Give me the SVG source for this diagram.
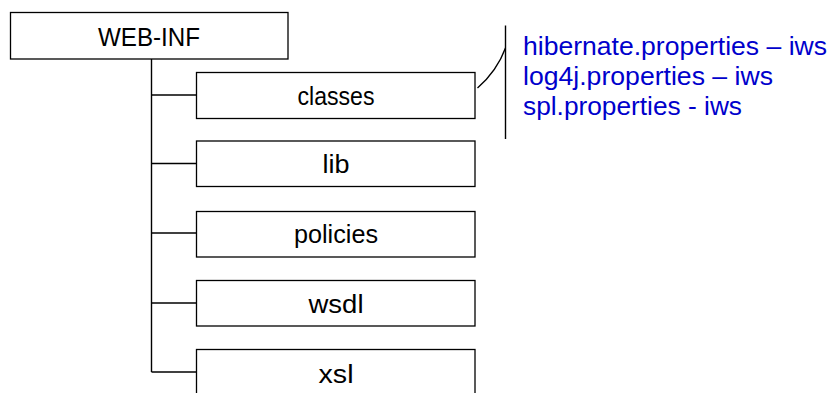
<svg xmlns="http://www.w3.org/2000/svg" width="832" height="393" viewBox="0 0 832 393">
<style>
.box{fill:#fff;stroke:#000;stroke-width:1.3}
.ln{fill:none;stroke:#000;stroke-width:1.4}
.lbl{font-family:"Liberation Sans",Arial,sans-serif;font-size:26px;fill:#000;text-anchor:middle}
.note{font-family:"Liberation Sans",Arial,sans-serif;font-size:25px;fill:#0000CC}
</style>
<rect width="832" height="393" fill="#fff"/>
<g id="connectors">
<path class="ln" d="M151.5,59 V372"/>
<path class="ln" d="M151.5,95 H196.5"/>
<path class="ln" d="M151.5,163.5 H196.5"/>
<path class="ln" d="M151.5,233 H196.5"/>
<path class="ln" d="M151.5,303 H196.5"/>
<path class="ln" d="M151.5,372 H196.5"/>
<path class="ln" d="M477.5,88 Q497,71 505.5,48"/>
<path class="ln" d="M505.5,25.5 V139"/>
</g>
<g id="web-inf">
<rect class="box" x="10.5" y="12.5" width="277.5" height="46.5"/>
<text class="lbl" x="149" y="46" textLength="102" lengthAdjust="spacingAndGlyphs">WEB-INF</text>
</g>
<g id="classes">
<rect class="box" x="196.5" y="72.5" width="278.5" height="46"/>
<text class="lbl" x="336" y="105" textLength="77" lengthAdjust="spacingAndGlyphs">classes</text>
</g>
<g id="lib">
<rect class="box" x="196.5" y="141" width="278.5" height="45.5"/>
<text class="lbl" x="336" y="173" textLength="27" lengthAdjust="spacingAndGlyphs">lib</text>
</g>
<g id="policies">
<rect class="box" x="196.5" y="211.5" width="278.5" height="45.5"/>
<text class="lbl" x="336" y="243" textLength="84" lengthAdjust="spacingAndGlyphs">policies</text>
</g>
<g id="wsdl">
<rect class="box" x="196.5" y="280.5" width="278.5" height="45.5"/>
<text class="lbl" x="336" y="312.5" textLength="55" lengthAdjust="spacingAndGlyphs">wsdl</text>
</g>
<g id="xsl">
<rect class="box" x="196.5" y="349.5" width="278.5" height="50"/>
<text class="lbl" x="336" y="382.5" textLength="35" lengthAdjust="spacingAndGlyphs">xsl</text>
</g>
<g id="note">
<text class="note" x="523" y="55" textLength="304" lengthAdjust="spacingAndGlyphs">hibernate.properties – iws</text>
<text class="note" x="523" y="85" textLength="250" lengthAdjust="spacingAndGlyphs">log4j.properties – iws</text>
<text class="note" x="523" y="115" textLength="219" lengthAdjust="spacingAndGlyphs">spl.properties - iws</text>
</g>
</svg>
